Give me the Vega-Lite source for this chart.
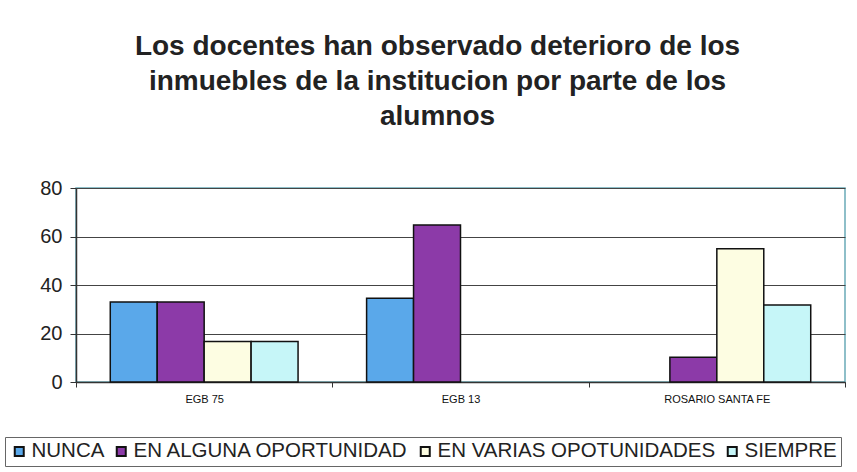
{
  "$schema": "https://vega.github.io/schema/vega-lite/v6.json",
  "width": 769,
  "height": 194,
  "autosize": {"type": "none"},
  "padding": {"left": 76, "top": 188, "right": 12, "bottom": 90},
  "background": "white",
  "title": {
    "text": ["Los docentes han observado deterioro de los", "inmuebles de la institucion por parte de los", "alumnos"],
    "font": "Liberation Sans",
    "fontSize": 28,
    "fontWeight": "bold",
    "color": "#222222",
    "lineHeight": 35,
    "anchor": "middle",
    "dx": -23,
    "offset": 47
  },
  "data": {
    "values": [
      {"escuela": "EGB 75", "respuesta": "NUNCA", "valor": 33},
      {"escuela": "EGB 75", "respuesta": "EN ALGUNA OPORTUNIDAD", "valor": 33},
      {"escuela": "EGB 75", "respuesta": "EN VARIAS OPOTUNIDADES", "valor": 16.7},
      {"escuela": "EGB 75", "respuesta": "SIEMPRE", "valor": 16.7},
      {"escuela": "EGB 13", "respuesta": "NUNCA", "valor": 34.5},
      {"escuela": "EGB 13", "respuesta": "EN ALGUNA OPORTUNIDAD", "valor": 64.7},
      {"escuela": "EGB 13", "respuesta": "EN VARIAS OPOTUNIDADES", "valor": 0},
      {"escuela": "EGB 13", "respuesta": "SIEMPRE", "valor": 0},
      {"escuela": "ROSARIO SANTA FE", "respuesta": "NUNCA", "valor": 0},
      {"escuela": "ROSARIO SANTA FE", "respuesta": "EN ALGUNA OPORTUNIDAD", "valor": 10.2},
      {"escuela": "ROSARIO SANTA FE", "respuesta": "EN VARIAS OPOTUNIDADES", "valor": 55},
      {"escuela": "ROSARIO SANTA FE", "respuesta": "SIEMPRE", "valor": 31.8}
    ]
  },
  "mark": {"type": "bar", "stroke": "#111111", "strokeWidth": 1.5},
  "encoding": {
    "x": {
      "field": "escuela",
      "type": "nominal",
      "sort": ["EGB 75", "EGB 13", "ROSARIO SANTA FE"],
      "scale": {"paddingInner": 0, "paddingOuter": 0},
      "axis": {
        "title": null,
        "labelAngle": 0,
        "labelFont": "Liberation Sans",
        "labelFontSize": 11,
        "labelColor": "#111111",
        "labelPadding": 6,
        "tickBand": "extent",
        "tickSize": 5,
        "tickColor": "#333333",
        "domainColor": "#333333",
        "domainWidth": 1.5,
        "grid": false
      }
    },
    "xOffset": {
      "field": "respuesta",
      "type": "nominal",
      "sort": ["NUNCA", "EN ALGUNA OPORTUNIDAD", "EN VARIAS OPOTUNIDADES", "SIEMPRE"],
      "scale": {"paddingInner": 0, "paddingOuter": 0.73}
    },
    "y": {
      "field": "valor",
      "type": "quantitative",
      "scale": {"domain": [0, 80], "nice": false},
      "axis": {
        "title": null,
        "values": [0, 20, 40, 60, 80],
        "labelFont": "Liberation Sans",
        "labelFontSize": 20,
        "labelColor": "#222222",
        "labelPadding": 8,
        "tickSize": 6,
        "tickColor": "#333333",
        "domainColor": "#333333",
        "domainWidth": 1.5,
        "grid": true,
        "gridColor": "#444444",
        "gridWidth": 1
      }
    },
    "strokeOpacity": {
      "condition": {"test": "datum.valor > 0", "value": 1},
      "value": 0
    },
    "color": {
      "field": "respuesta",
      "type": "nominal",
      "sort": ["NUNCA", "EN ALGUNA OPORTUNIDAD", "EN VARIAS OPOTUNIDADES", "SIEMPRE"],
      "scale": {
        "domain": ["NUNCA", "EN ALGUNA OPORTUNIDAD", "EN VARIAS OPOTUNIDADES", "SIEMPRE"],
        "range": ["#5aa8ea", "#8c3aa8", "#fdfde2", "#c6f6f8"]
      },
      "legend": {
        "title": null,
        "orient": "none",
        "direction": "horizontal",
        "legendX": -71,
        "legendY": 249,
        "labelFont": "Liberation Sans",
        "labelFontSize": 20.5,
        "labelColor": "#222222",
        "labelLimit": 400,
        "labelOffset": 2,
        "symbolType": "square",
        "symbolSize": 81,
        "symbolStrokeColor": "#111111",
        "symbolStrokeWidth": 2,
        "symbolOpacity": 1,
        "columnPadding": 6,
        "strokeColor": "#666666",
        "padding": 4,
        "fillColor": "white"
      }
    }
  },
  "config": {
    "view": {"stroke": "#6aaab8", "strokeWidth": 1.5}
  }
}
